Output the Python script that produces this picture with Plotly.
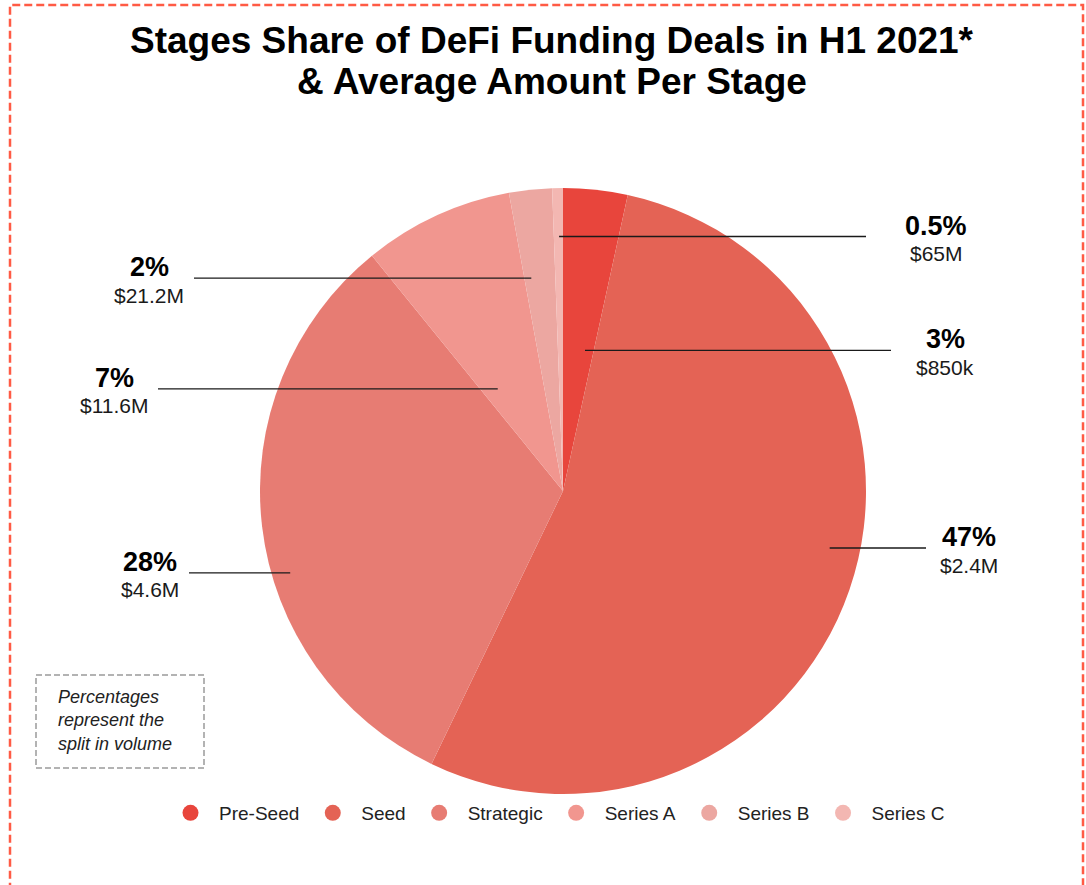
import math
import plotly.graph_objects as go

# Funding stages, share of deal volume (%) and average amount per stage
stages = ["Pre-Seed", "Seed", "Strategic", "Series A", "Series B", "Series C"]
shares = [3, 47, 28, 7, 2, 0.5]
avg_amounts = ["$850k", "$2.4M", "$4.6M", "$11.6M", "$21.2M", "$65M"]

colors = ["#E8453C", "#E46355", "#E77C73", "#F1968F", "#ECA7A1", "#F3B7B2"]

W, H = 1086, 885
# pie geometry in pixels (centre and radius)
CX, CY, R = 563, 491, 303

# leader-line anchors: position inside each slice (fraction of slice angle, fraction of radius)
anchor_frac = [0.72, 0.464, 0.413, 0.226, 0.22, 0.57]
anchor_rad = [0.47, 0.90, 0.94, 0.40, 0.71, 0.84]
# outer end of each leader line and centre of its label (pixels)
line_end_x = [891, 926, 189, 158, 194, 866]
label_x = [945, 969, 150, 115, 149, 936]


def px(x):
    return x / W


def py(y):
    return 1 - y / H


fig = go.Figure()

fig.add_trace(go.Pie(
    labels=stages,
    values=shares,
    sort=False,
    direction="clockwise",
    rotation=0,
    marker=dict(colors=colors, line=dict(width=0)),
    textinfo="none",
    hoverinfo="label+percent",
    showlegend=False,
    domain=dict(x=[px(CX - R), px(CX + R)], y=[py(CY + R), py(CY - R)]),
))

# legend entries with round markers
for name, col in zip(stages, colors):
    fig.add_trace(go.Scatter(
        x=[None], y=[None], mode="markers", name=name,
        marker=dict(color=col, size=16, symbol="circle"),
    ))

shapes = []
annotations = []

# leader lines and labels, placed from the slice angles
total = sum(shares)
start = 0.0
for i, v in enumerate(shares):
    span = v / total * 360.0
    ang = math.radians(start + anchor_frac[i] * span)
    r = anchor_rad[i] * R
    ax = CX + r * math.sin(ang)
    ay = CY - r * math.cos(ang)
    start += span

    shapes.append(dict(
        type="line", xref="paper", yref="paper",
        x0=px(ax), y0=py(ay), x1=px(line_end_x[i]), y1=py(ay),
        line=dict(color="#1a1a1a", width=1.3),
    ))
    annotations.append(dict(
        x=px(label_x[i]), y=py(ay - 11), xref="paper", yref="paper",
        text=f"<b>{v:g}%</b>", showarrow=False, xanchor="center", yanchor="middle",
        font=dict(family="Liberation Sans, Arial", size=27, color="#000000"),
    ))
    annotations.append(dict(
        x=px(label_x[i]), y=py(ay + 17), xref="paper", yref="paper",
        text=avg_amounts[i], showarrow=False, xanchor="center", yanchor="middle",
        font=dict(family="Liberation Sans, Arial", size=21, color="#1a1a1a"),
    ))

# title, two lines
annotations.append(dict(
    x=px(552), y=py(40), xref="paper", yref="paper", showarrow=False,
    text="<b>Stages Share of DeFi Funding Deals in H1 2021*</b>",
    xanchor="center", yanchor="middle",
    font=dict(family="Liberation Sans, Arial", size=37, color="#000000"),
))
annotations.append(dict(
    x=px(552), y=py(81), xref="paper", yref="paper", showarrow=False,
    text="<b>& Average Amount Per Stage</b>",
    xanchor="center", yanchor="middle",
    font=dict(family="Liberation Sans, Arial", size=37, color="#000000"),
))

# note box
shapes.append(dict(
    type="rect", xref="paper", yref="paper",
    x0=px(36), x1=px(204), y0=py(768), y1=py(675),
    line=dict(color="#b3b3b3", width=2, dash="6px,3px"),
))
annotations.append(dict(
    x=px(56), y=py(720), xref="paper", yref="paper", showarrow=False,
    text="<i>Percentages<br>represent the<br>split in volume</i>",
    xanchor="left", yanchor="middle", align="left",
    font=dict(family="Liberation Sans, Arial", size=18, color="#222222"),
))

# dashed frame around the figure
shapes.append(dict(
    type="rect", xref="paper", yref="paper",
    x0=px(10), x1=px(1083), y0=-0.05, y1=py(5),
    line=dict(color="#FF5B45", width=2.5, dash="8px,4px"),
))

fig.update_layout(
    width=W, height=H,
    margin=dict(l=0, r=0, t=0, b=0),
    paper_bgcolor="#ffffff",
    plot_bgcolor="#ffffff",
    xaxis=dict(visible=False),
    yaxis=dict(visible=False),
    shapes=shapes,
    annotations=annotations,
    legend=dict(
        orientation="h", x=px(556), y=py(813), xanchor="center", yanchor="middle",
        font=dict(family="Liberation Sans, Arial", size=19, color="#222222"),
        bgcolor="rgba(0,0,0,0)",
        itemwidth=47,
    ),
)

fig.write_html("out.html")
